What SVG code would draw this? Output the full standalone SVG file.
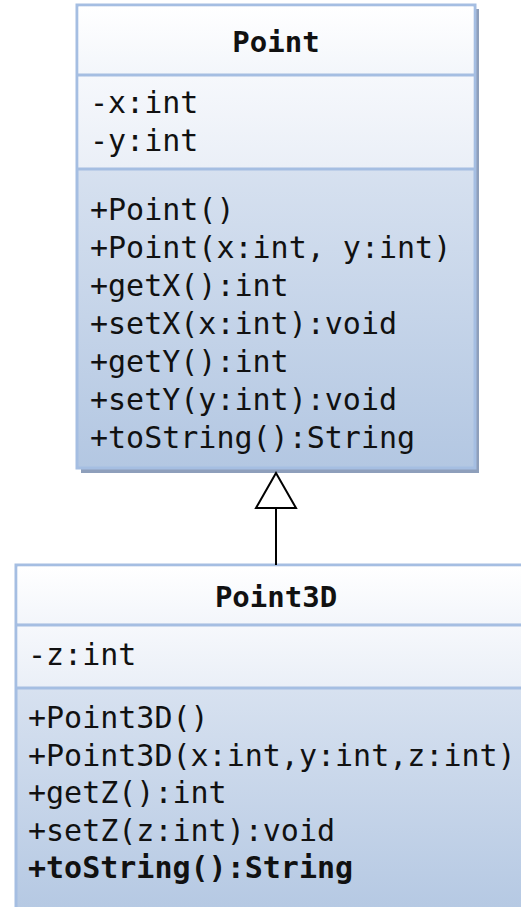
<svg xmlns="http://www.w3.org/2000/svg" width="521" height="907" viewBox="0 0 521 907">
<defs>
<linearGradient id="gHead" x1="0" y1="0" x2="0" y2="1">
<stop offset="0" stop-color="#ffffff"/>
<stop offset="1" stop-color="#f3f6fb"/>
</linearGradient>
<linearGradient id="gAttr" x1="0" y1="0" x2="0" y2="1">
<stop offset="0" stop-color="#f6f8fc"/>
<stop offset="1" stop-color="#eaeff7"/>
</linearGradient>
<linearGradient id="gOps" x1="0" y1="0" x2="0" y2="1">
<stop offset="0" stop-color="#eaeff7"/>
<stop offset="1" stop-color="#b3c7e2"/>
</linearGradient>
<style>
.box{stroke:#a5bee2;stroke-width:3}
.div{stroke:#a5bee2;stroke-width:3}
.shadow{fill:#8e9fbb}
text{font-family:"DejaVu Sans Mono","Liberation Mono",monospace;font-size:30px;fill:#111}
.title{font-weight:bold;text-anchor:middle;font-size:29px}
.b{font-weight:bold}
.conn{stroke:#000;stroke-width:2;fill:none}
</style>
</defs>
<g id="Point">
<rect class="shadow" x="81" y="9" width="398" height="464"/>
<rect x="77" y="5" width="398" height="463" fill="url(#gOps)" class="box"/>
<rect x="78.5" y="6.5" width="395" height="68" fill="url(#gHead)"/>
<rect x="78.5" y="76" width="395" height="93" fill="url(#gAttr)"/>
<line class="div" x1="77" y1="75" x2="475" y2="75"/>
<line class="div" x1="77" y1="169" x2="475" y2="169"/>
<text class="title" x="276" y="52">Point</text>
<text x="90" y="113">-x:int</text>
<text x="90" y="151">-y:int</text>
<text x="90" y="220">+Point()</text>
<text x="90" y="258">+Point(x:int, y:int)</text>
<text x="90" y="296">+getX():int</text>
<text x="90" y="334">+setX(x:int):void</text>
<text x="90" y="372">+getY():int</text>
<text x="90" y="410">+setY(y:int):void</text>
<text x="90" y="448">+toString():String</text>
</g>
<g id="Point3D">
<rect x="16" y="565" width="520" height="360" fill="url(#gOps)" class="box"/>
<rect x="17.5" y="566.5" width="520" height="57" fill="url(#gHead)"/>
<rect x="17.5" y="626" width="520" height="61" fill="url(#gAttr)"/>
<line class="div" x1="16" y1="625" x2="530" y2="625"/>
<line class="div" x1="16" y1="688" x2="530" y2="688"/>
<text class="title" x="276" y="607">Point3D</text>
<text x="28" y="665">-z:int</text>
<text x="28" y="728">+Point3D()</text>
<text x="28" y="766">+Point3D(x:int,y:int,z:int)</text>
<text x="28" y="803">+getZ():int</text>
<text x="28" y="841">+setZ(z:int):void</text>
<text x="28" y="878" class="b">+toString():String</text>
</g>
<g id="connectors">
<line class="conn" x1="276" y1="508" x2="276" y2="565"/>
<polygon class="conn" points="276,473 256,508 296,508" fill="#fff"/>
</g>
</svg>
